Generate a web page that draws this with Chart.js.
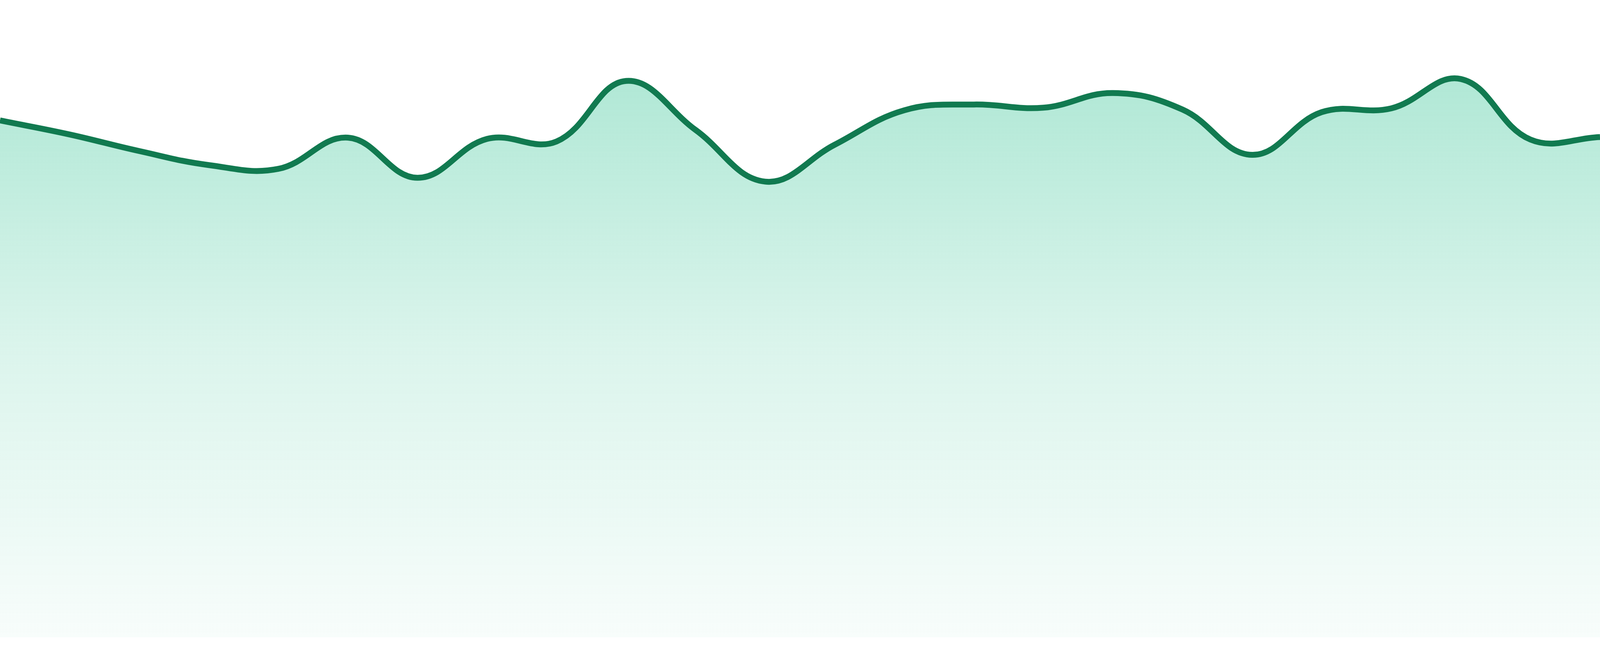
<!DOCTYPE html>
<html>
<head>
<meta charset="utf-8">
<script src="https://cdn.jsdelivr.net/npm/chart.js@4/dist/chart.umd.min.js"></script>
<style>
    html, body { margin: 0; padding: 0; background: #ffffff; overflow: hidden; }
    #wrap { width: 100vw; height: 100vh; position: relative; }
</style>
</head>
<body>
<div id="wrap"><canvas id="areaChart"></canvas></div>
<script>
// 24 hourly points
const hours = ['00', '01', '02', '03', '04', '05', '06', '07', '08', '09', '10', '11',
    '12', '13', '14', '15', '16', '17', '18', '19', '20', '21', '22', '23'];
const values = [81.1, 78.9, 76.3, 74.1, 73.5, 78.4, 72.1, 78.2, 77.8, 87.3, 79.6, 71.5,
    77.3, 82.7, 83.6, 83.1, 85.4, 82.8, 75.7, 82.4, 83.0, 87.6, 78.1, 78.5];
const yMin = 0;
const yMax = 100;

// sizes were measured on a 1680px tall picture
const sy = window.innerHeight / 1680;

// Gradient fill, fades out towards the bottom
function areaFill(context) {
    const chart = context.chart;
    const area = chart.chartArea;
    if (!area) return 'rgba(16,185,129,0.2)';
    const g = chart.ctx.createLinearGradient(0, area.top, 0, area.bottom);
    g.addColorStop(0, 'rgba(16,185,129,0.38)');
    g.addColorStop(0.55, 'rgba(16,185,129,0.15)');
    g.addColorStop(1, 'rgba(16,185,129,0.03)');
    return g;
}

const ctx = document.getElementById('areaChart').getContext('2d');
new Chart(ctx, {
    type: 'line',
    data: {
        labels: hours,
        datasets: [{
            data: values,
            borderColor: '#117a50',
            borderWidth: 15 * sy,
            backgroundColor: areaFill,
            fill: 'origin',
            tension: 0.4,
            pointRadius: 0
        }]
    },
    options: {
        responsive: true,
        maintainAspectRatio: false,
        animation: false,
        layout: {
            padding: { top: 0, right: 0, bottom: 48 * sy, left: 0 }
        },
        plugins: {
            legend: { display: false },
            tooltip: { enabled: false }
        },
        scales: {
            x: { display: false, offset: false },
            y: { display: false, min: yMin, max: yMax }
        }
    }
});
</script>
</body>
</html>
